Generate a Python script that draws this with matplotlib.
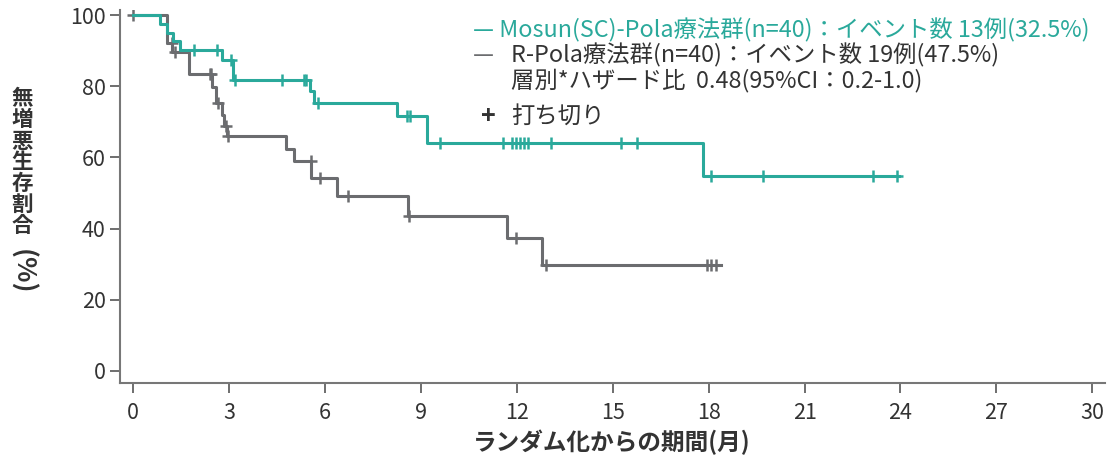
import matplotlib.pyplot as plt
import numpy as np

plt.rcParams['font.family'] = ['Noto Sans CJK JP', 'DejaVu Sans']

# Mosun(SC)-Pola arm: event times (months) and survival (%) after each step
mosun_t = [0, 0.85, 1.05, 1.26, 1.47, 2.77, 3.12, 5.52, 5.65, 8.26, 9.19, 17.83, 23.95]
mosun_s = [100, 97.5, 95.0, 92.6, 90.1, 87.4, 81.8, 78.7, 75.3, 71.6, 64.1, 54.9, 54.9]
mosun_cens = [1.89, 2.62, 3.07, 3.17, 4.65, 5.34, 5.42, 5.77, 8.57, 8.67, 9.59,
              11.57, 11.84, 11.96, 12.09, 12.22, 12.36, 13.08, 15.25, 15.75,
              18.07, 19.71, 23.15, 23.9]

# R-Pola arm
rpola_t = [0, 1.05, 1.22, 1.73, 2.46, 2.6, 2.77, 2.84, 2.93, 4.77, 5.02, 5.57,
           6.37, 8.6, 11.68, 12.8, 18.38]
rpola_s = [100, 92.3, 89.6, 83.5, 79.9, 75.3, 71.9, 68.9, 66.0, 62.5, 59.1, 54.1,
           49.2, 43.6, 37.3, 29.9, 29.9]
rpola_cens = [0, 1.2, 1.32, 2.39, 2.43, 2.65, 2.9, 2.97, 5.56, 5.83, 6.71, 8.62,
              11.96, 12.92, 17.96, 18.09, 18.23]

xticks = [0, 3, 6, 9, 12, 15, 18, 21, 24, 27, 30]
yticks = [0, 20, 40, 60, 80, 100]

teal = '#2aa99b'
gray = '#6b6c6f'
txt = '#333333'


def surv_at(times, surv, x):
    idx = np.searchsorted(times, x, side='right') - 1
    return np.array(surv)[idx]


fig = plt.figure(figsize=(11.12, 4.63), dpi=100)
ax = fig.add_axes([0.108, 0.1728, 0.886, 0.806])

ax.step(rpola_t, rpola_s, where='post', color=gray, lw=2.2, zorder=2)
ax.plot(rpola_cens, surv_at(rpola_t, rpola_s, rpola_cens), ls='none', marker='+',
        ms=9, mew=1.8, color=gray, zorder=3)
ax.step(mosun_t, mosun_s, where='post', color=teal, lw=2.2, zorder=4)
ax.plot(mosun_cens, surv_at(mosun_t, mosun_s, mosun_cens), ls='none', marker='+',
        ms=9, mew=1.8, color=teal, zorder=5)

ax.set_xlim(-0.41, 30.41)
ax.set_ylim(-3.4, 101.5)
ax.set_xticks(xticks)
ax.set_yticks(yticks)
ax.tick_params(axis='both', colors='#555555', labelcolor=txt, labelsize=15.5,
               length=7, width=1.2)
ax.tick_params(axis='x', pad=7)
for s in ['top', 'right']:
    ax.spines[s].set_visible(False)
for s in ['left', 'bottom']:
    ax.spines[s].set_color('#777777')
    ax.spines[s].set_linewidth(1.5)

fig.text(612 / 1112, 1 - 442 / 463, 'ランダム化からの期間(月)', ha='center', va='center',
         fontsize=17, fontweight='bold', color=txt)
fig.text(22 / 1112, 1 - 162 / 463, '\n'.join('無増悪生存割合'), ha='center', va='center',
         fontsize=15.5, fontweight='bold', color=txt, linespacing=1.0)
fig.text(22 / 1112, 1 - 272 / 463, '(%)', ha='center', va='center', rotation=-90,
         fontsize=19, fontweight='bold', color=txt)

fig.text(473 / 1112, 1 - 30 / 463, '— Mosun(SC)-Pola療法群(n=40)：イベント数 13例(32.5%)',
         ha='left', va='center', fontsize=16.8, color=teal)
fig.text(473 / 1112, 1 - 55 / 463, '—', ha='left', va='center', fontsize=16.8, color=gray)
fig.text(511 / 1112, 1 - 55 / 463, 'R-Pola療法群(n=40)：イベント数 19例(47.5%)',
         ha='left', va='center', fontsize=16.8, color=txt)
fig.text(511 / 1112, 1 - 80 / 463, '層別*ハザード比  0.48(95%CI：0.2-1.0)',
         ha='left', va='center', fontsize=16.8, color=txt)
fig.text(488 / 1112, 1 - 117 / 463, '+', ha='center', va='center', fontsize=18,
         fontweight='bold', color=txt)
fig.text(511 / 1112, 1 - 117 / 463, '打ち切り', ha='left', va='center', fontsize=16.8, color=txt)

fig.savefig('out.png', dpi=100)
